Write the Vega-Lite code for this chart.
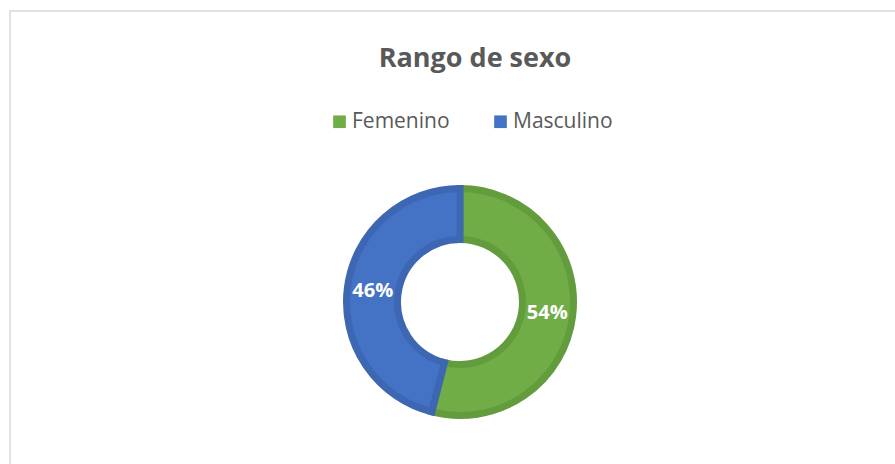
{
  "$schema": "https://vega.github.io/schema/vega-lite/v6.json",
  "autosize": {"type": "none"},
  "padding": {"left": 10, "top": 11, "right": 0, "bottom": 0},
  "width": 900,
  "height": 582,
  "background": "white",
  "view": {"stroke": "#d9d9d9", "strokeWidth": 1.5},
  "title": {"text": "Rango de sexo", "anchor": "middle", "orient": "top", "offset": -62, "dx": 15, "font": "Open Sans", "fontSize": 27, "fontWeight": "bold", "color": "#595959"},
  "data": {"values": [
    {"sexo": "Femenino", "pct": 54, "label": "54%"},
    {"sexo": "Masculino", "pct": 46, "label": "46%"}
  ]},
  "encoding": {
    "theta": {"field": "pct", "type": "quantitative", "stack": true},
    "order": {"field": "sexo", "type": "nominal", "sort": "ascending"},
    "color": {"field": "sexo", "type": "nominal", "sort": ["Femenino", "Masculino"],
      "scale": {"domain": ["Femenino", "Masculino"], "range": ["#70AD47", "#4472C4"]},
      "legend": {"title": null, "orient": "none", "legendX": 319, "legendY": 100, "direction": "horizontal", "columns": 2,
        "symbolType": "square", "symbolSize": 160, "symbolStrokeWidth": 0, "labelFont": "Open Sans", "labelFontSize": 21, "labelColor": "#595959", "labelOffset": 2, "columnPadding": 40}}
  },
  "layer": [
    {
      "mark": {"type": "arc", "outerRadius": 113.5, "innerRadius": 62.5, "strokeWidth": 7},
      "encoding": {
        "stroke": {"field": "sexo", "type": "nominal", "scale": {"domain": ["Femenino", "Masculino"], "range": ["#629C3C", "#3D66B3"]}, "legend": null}
      }
    },
    {
      "mark": {"type": "text", "radius": 88, "font": "Open Sans", "fontSize": 20, "fontWeight": "bold"},
      "encoding": {"text": {"field": "label"}, "detail": {"field": "sexo", "type": "nominal"}, "color": {"value": "white"}}
    }
  ]
}
